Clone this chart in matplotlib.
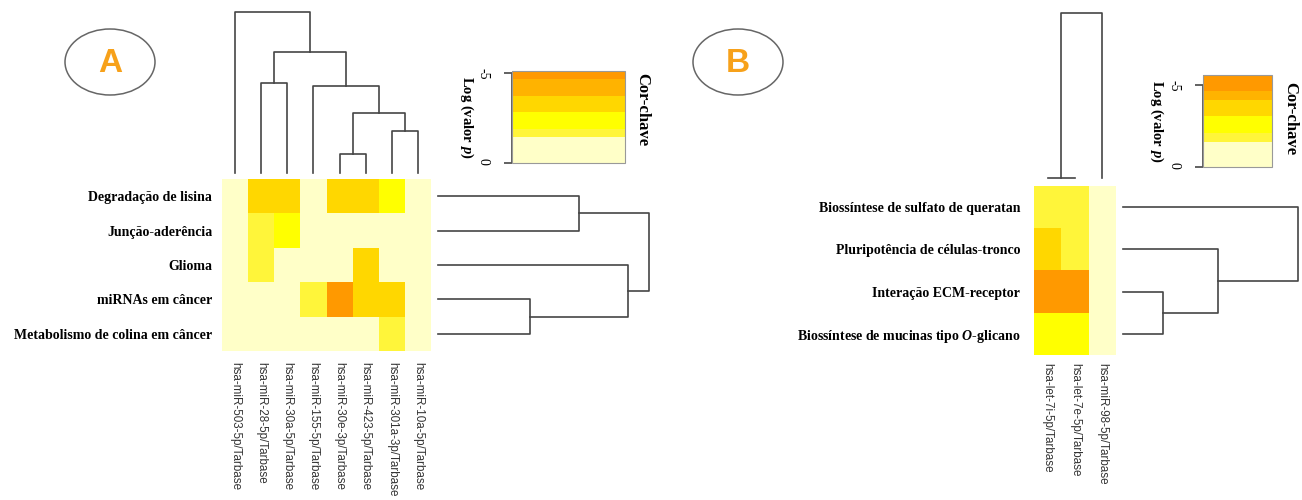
import numpy as np
import matplotlib.pyplot as plt
from matplotlib.colors import ListedColormap, BoundaryNorm
from matplotlib.cm import ScalarMappable
from matplotlib.patches import Ellipse

plt.rcParams['mathtext.fontset'] = 'custom'
plt.rcParams['mathtext.rm'] = 'Liberation Serif:bold'
plt.rcParams['mathtext.it'] = 'Liberation Serif:italic:bold'
plt.rcParams['mathtext.bf'] = 'Liberation Serif:bold'

# ---- data: panel A ----
mirnas_a = ["hsa-miR-503-5p/Tarbase", "hsa-miR-28-5p/Tarbase", "hsa-miR-30a-5p/Tarbase",
            "hsa-miR-155-5p/Tarbase", "hsa-miR-30e-3p/Tarbase", "hsa-miR-423-5p/Tarbase",
            "hsa-miR-301a-3p/Tarbase", "hsa-miR-10a-5p/Tarbase"]
vias_a = ["Degradação de lisina", "Junção-aderência", "Glioma", "miRNAs em câncer",
          "Metabolismo de colina em câncer"]
logp_a = [
    [-0.5, -3.3, -3.3, -0.5, -3.3, -3.3, -2.3, -0.5],
    [-0.5, -1.6, -2.3, -0.5, -0.5, -0.5, -0.5, -0.5],
    [-0.5, -1.6, -0.5, -0.5, -0.5, -3.3, -0.5, -0.5],
    [-0.5, -0.5, -0.5, -1.6, -4.9, -3.3, -3.3, -0.5],
    [-0.5, -0.5, -0.5, -0.5, -0.5, -0.5, -1.6, -0.5],
]
# linkage: (left, right, height); ids >= n are earlier merges
col_link_a = [(4, 5, 19), (6, 7, 42), (8, 9, 60), (3, 10, 87), (1, 2, 90), (12, 11, 121), (0, 13, 161)]
row_link_a = [(0, 1, 141), (3, 4, 92), (2, 6, 190), (5, 7, 211)]
bounds_a = [-5.1, -4.66, -3.73, -2.85, -1.87, -1.42, 0]

# ---- data: panel B ----
mirnas_b = ["hsa-let-7i-5p/Tarbase", "hsa-let-7e-5p/Tarbase", "hsa-miR-98-5p/Tarbase"]
vias_b = ["Biossíntese de sulfato de queratan", "Pluripotência de células-tronco",
          "Interação ECM-receptor", "Biossíntese de mucinas tipo $\\mathit{O}$-glicano"]
logp_b = [
    [-1.6, -1.6, -0.5],
    [-3.3, -1.6, -0.5],
    [-4.9, -4.9, -0.5],
    [-2.3, -2.3, -0.5],
]
col_link_b = [(0, 1, 0.5), (3, 2, 165)]
row_link_b = [(2, 3, 40), (1, 4, 95), (0, 5, 175)]
bounds_b = [-5.6, -4.6, -4.06, -3.1, -2.1, -1.5, 0]

band_colors = ['#FF9900', '#FFB300', '#FFD700', '#FFFF00', '#FFF53A', '#FFFFC8']
cmap = ListedColormap(band_colors)
line_col = '#454545'

W, H = 1302, 500
fig = plt.figure(figsize=(W / 100, H / 100), dpi=100)


def box(x0, y0, x1, y1):
    return fig.add_axes([x0 / W, 1 - y1 / H, (x1 - x0) / W, (y1 - y0) / H])


def dendro_segments(links, n):
    pos = {i: float(i) for i in range(n)}
    hgt = {i: 0.0 for i in range(n)}
    segs = []
    for k, (a, b, h) in enumerate(links):
        segs.append(([pos[a], pos[a], pos[b], pos[b]], [hgt[a], h, h, hgt[b]]))
        pos[n + k] = (pos[a] + pos[b]) / 2
        hgt[n + k] = h
    return segs


def col_dendro(ax, links, n, top):
    for xs, ys in dendro_segments(links, n):
        ax.plot(xs, ys, color=line_col, lw=1.2, clip_on=False)
    ax.set_xlim(-0.5, n - 0.5)
    ax.set_ylim(0, top)
    ax.axis('off')


def row_dendro(ax, links, n, right):
    for xs, ys in dendro_segments(links, n):
        ax.plot(ys, xs, color=line_col, lw=1.2, clip_on=False)
    ax.set_ylim(n - 0.5, -0.5)
    ax.set_xlim(0, right)
    ax.axis('off')


def heatmap(ax, vals, cols, rows, norm, ypad, xpad):
    vals = np.array(vals)
    ax.pcolormesh(np.arange(len(cols) + 1) - 0.5, np.arange(len(rows) + 1) - 0.5, vals,
                  cmap=cmap, norm=norm)
    ax.set_xlim(-0.5, len(cols) - 0.5)
    ax.set_ylim(len(rows) - 0.5, -0.5)
    ax.set_xticks(range(len(cols)))
    ax.set_xticklabels(cols, rotation=270, fontsize=8.4, color='#333333', family='Liberation Sans')
    ax.set_yticks(range(len(rows)))
    ax.set_yticklabels(rows, fontsize=10, fontweight='bold', family='Liberation Serif')
    ax.tick_params(axis='x', length=0, pad=xpad)
    ax.tick_params(axis='y', length=0, pad=ypad)
    for s in ax.spines.values():
        s.set_visible(False)


def color_key(cax, norm, lab_x, key_x, key_y, tick_pad):
    ticks = [-5, 0]
    cb = fig.colorbar(ScalarMappable(norm=norm, cmap=cmap), cax=cax,
                      spacing='proportional', ticks=ticks)
    cb.minorticks_off()
    cax.invert_yaxis()
    cax.yaxis.set_ticks_position('left')
    cb.set_ticklabels([str(t) for t in ticks])
    cax.tick_params(axis='y', labelrotation=-90, length=6, width=1.3, color='#555555',
                    pad=tick_pad, labelsize=10)
    for t in cax.get_yticklabels():
        t.set_family('Liberation Serif')
    cb.outline.set_edgecolor('#999999')
    cb.outline.set_linewidth(0.8)
    # axis line between the end ticks, as in R's key
    cax.vlines(0, ticks[0], ticks[1], color='#555555', lw=1.3, clip_on=False)
    cax.text(lab_x, 0.5, 'Log (valor $\\mathit{p}$)', transform=cax.transAxes, rotation=-90,
             ha='center', va='center', fontsize=10.5, fontweight='bold', family='Liberation Serif')
    cax.text(key_x, key_y, 'Cor-chave', transform=cax.transAxes, rotation=-90,
             ha='center', va='center', fontsize=12, fontweight='bold', family='Liberation Serif')


norm_a = BoundaryNorm(bounds_a, cmap.N)
norm_b = BoundaryNorm(bounds_b, cmap.N)

# panel A
heatmap(box(222, 179, 431, 351), logp_a, mirnas_a, vias_a, norm_a, ypad=7, xpad=8)
col_dendro(box(222, 5, 431, 173), col_link_a, len(mirnas_a), 168)
row_dendro(box(438, 179, 653, 351), row_link_a, len(vias_a), 215)
color_key(box(512, 71, 625, 163), norm_a, -0.40, 1.15, 0.58, 10)

# panel B
heatmap(box(1034, 186, 1116, 355), logp_b, mirnas_b, vias_b, norm_b, ypad=10, xpad=6)
col_dendro(box(1034, 5, 1116, 178), col_link_b, len(mirnas_b), 173)
row_dendro(box(1123, 186, 1300, 355), row_link_b, len(vias_b), 177)
color_key(box(1203, 75, 1272, 167), norm_b, -0.67, 1.26, 0.53, 10)

# panel badges
over = fig.add_axes([0, 0, 1, 1], zorder=-1)
over.set_xlim(0, W)
over.set_ylim(H, 0)
over.axis('off')
for cx, letter in [(110, 'A'), (738, 'B')]:
    over.add_patch(Ellipse((cx, 62), 90, 66, facecolor='white', edgecolor='#666666', lw=1.1))
    over.text(cx, 63, letter, ha='center', va='center', fontsize=24, fontweight='bold',
              color='#F7A11A', family='Liberation Sans')

fig.savefig('out.png', dpi=100)
